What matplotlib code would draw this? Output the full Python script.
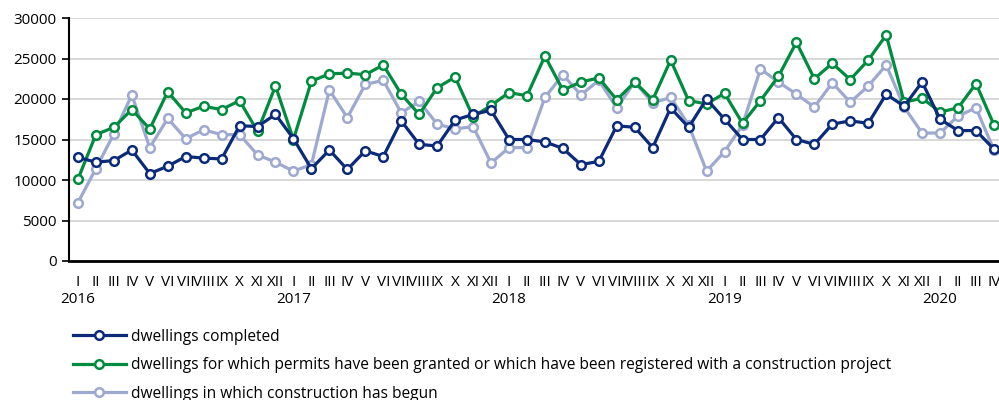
import matplotlib
matplotlib.use("Agg")
import matplotlib.pyplot as plt
import matplotlib.transforms as mtransforms

plt.rcParams['font.family'] = ['Open Sans', 'DejaVu Sans']

months = ["I", "II", "III", "IV", "V", "VI", "VII", "VIII", "IX", "X", "XI", "XII"]
years = ["2016", "2017", "2018", "2019", "2020"]
month_labels = months * 4 + months[:4]

completed = [12800, 12200, 12400, 13700, 10800, 11700, 12900, 12700, 12600, 16700, 16600, 18100,
             15100, 11400, 13700, 11300, 13600, 12900, 17300, 14400, 14200, 17400, 18100, 18600,
             15000, 15000, 14700, 13900, 11900, 12300, 16700, 16500, 14000, 18900, 16500, 20000,
             17500, 15000, 15000, 17700, 15000, 14400, 16900, 17300, 17000, 20600, 19100, 22100,
             17500, 16100, 16100, 13800]
permits = [10100, 15600, 16500, 18700, 16300, 20900, 18300, 19100, 18700, 19800, 16000, 21600,
           15000, 22200, 23100, 23200, 23000, 24200, 20600, 18100, 21400, 22700, 17800, 19200,
           20800, 20400, 25300, 21100, 22100, 22600, 19900, 22100, 19900, 24800, 19800, 19400,
           20700, 17000, 19800, 22800, 27000, 22500, 24400, 22400, 24800, 27900, 19600, 20100,
           18400, 18900, 21900, 16800]
begun = [7200, 11400, 15700, 20500, 14000, 17600, 15100, 16200, 15600, 15600, 13100, 12200,
         11100, 11900, 21100, 17700, 21800, 22300, 18300, 19700, 16900, 16300, 16600, 12100,
         14000, 14000, 20200, 23000, 20500, 22300, 18900, 22100, 19500, 20200, 16800, 11100,
         13500, 16800, 23700, 22100, 20600, 19000, 22000, 19600, 21600, 24200, 19000, 15800,
         15800, 17900, 18900, 13700]

series_names = ["dwellings completed",
                "dwellings for which permits have been granted or which have been registered with a construction project",
                "dwellings in which construction has begun"]
colors = ["#0b2a7a", "#008c3f", "#9ea9d0"]

fig = plt.figure(figsize=(9.99, 4.0), dpi=100)
ax = fig.add_axes([0.069, 0.3475, 0.931, 0.6075])

x = list(range(len(completed)))
handles = []
for data, name, c, z in zip([completed, permits, begun], series_names, colors, [3, 2, 1]):
    h, = ax.plot(x, data, color=c, lw=2.3, marker='o', ms=6.2, mfc='white', mec=c, mew=1.8,
                 label=name, zorder=z + 2, clip_on=False)
    handles.append(h)

ax.set_ylim(0, 30000)
ax.set_xlim(-0.5, 51.28)
ax.set_yticks(range(0, 30001, 5000))
ax.yaxis.grid(True, color='#d6d6d6', lw=1.3)
ax.set_axisbelow(True)
for s in ['top', 'right']:
    ax.spines[s].set_visible(False)
ax.spines['left'].set_linewidth(1.5)
ax.spines['bottom'].set_linewidth(2.0)
ax.spines['bottom'].set_zorder(10)
ax.tick_params(axis='y', length=5, width=1.2, labelsize=11, pad=4)
ax.set_xticks(x)
ax.set_xticklabels(month_labels, fontsize=11)
ax.tick_params(axis='x', length=0, pad=10)

trans = mtransforms.blended_transform_factory(ax.transData, ax.transAxes)
for i, yr in enumerate(years):
    ax.text(i * 12, -0.16, yr, transform=trans, ha='center', va='center', fontsize=11)

leg = fig.legend(handles=handles, loc='upper left', bbox_to_anchor=(0.073, 0.178),
                 frameon=False, fontsize=11.2, handlelength=3.4, handletextpad=0.32,
                 labelspacing=0.8, borderaxespad=0, borderpad=0)

fig.savefig("out.png", dpi=100)
